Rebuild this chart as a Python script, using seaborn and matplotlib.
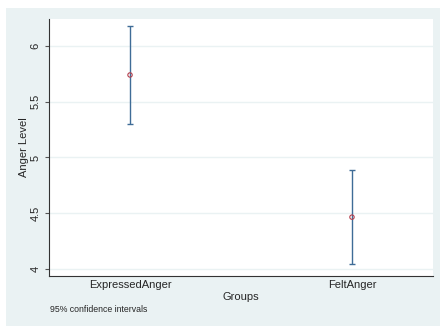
import matplotlib
matplotlib.use("Agg")
import matplotlib.pyplot as plt
import matplotlib.patches as mpatches
import seaborn as sns
import pandas as pd

groups = ["ExpressedAnger", "FeltAnger"]
means = [5.74, 4.465]
ci_low = [5.30, 4.045]
ci_high = [6.18, 4.886]
yticks = [4, 4.5, 5, 5.5, 6]
ytick_labels = ["4", "4.5", "5", "5.5", "6"]

sns.set_style("white")
plt.rcParams["font.family"] = ["Liberation Sans", "DejaVu Sans"]

W, H = 440, 326
fig = plt.figure(figsize=(W / 100, H / 100), dpi=100, facecolor="white")
fig.patches.append(mpatches.Rectangle((6 / W, 0), 434 / W, 318 / H,
                                      transform=fig.transFigure,
                                      facecolor="#EAF2F3", edgecolor="none", zorder=-10))
ax = fig.add_axes([49 / W, 1 - 276 / H, 384 / W, 257 / H])
ax.set_zorder(5)
ax.set_facecolor("white")

df = pd.DataFrame({"group": groups, "mean": means, "lo": ci_low, "hi": ci_high})
xpos = list(range(len(groups)))
ax.errorbar(xpos, df["mean"],
            yerr=[df["mean"] - df["lo"], df["hi"] - df["mean"]],
            fmt="none", ecolor="#3F6C97", elinewidth=1.0, capsize=2.2,
            capthick=1.0, zorder=2)
sns.scatterplot(x=xpos, y=df["mean"], ax=ax, marker="o", s=10,
                facecolor="none", edgecolor="#B5404E", linewidth=0.8, zorder=3)

ax.set_xlim(-0.365, 1.365)
ax.set_ylim(3.937, 6.242)
ax.set_yticks(yticks)
ax.set_yticklabels(ytick_labels, rotation=90, va="center", fontsize=8)
ax.set_xticks(xpos)
ax.set_xticklabels(groups, fontsize=8)
ax.tick_params(axis="x", length=0, pad=3)
ax.tick_params(axis="y", length=3, width=0.8, color="#555555", pad=3, left=True)
ax.yaxis.grid(True, color="#EAF2F3", linewidth=1.0)
ax.set_axisbelow(True)
for s in ["top", "right"]:
    ax.spines[s].set_visible(False)
for s in ["left", "bottom"]:
    ax.spines[s].set_color("#333333")
    ax.spines[s].set_linewidth(0.8)
ax.set_xlabel("Groups", fontsize=8, labelpad=1)
ax.set_ylabel("Anger Level", fontsize=8, labelpad=1)

fig.text(50 / W, 1 - 310 / H, "95% confidence intervals", fontsize=6.3,
         va="center", ha="left")

fig.savefig("out.png", dpi=100)
